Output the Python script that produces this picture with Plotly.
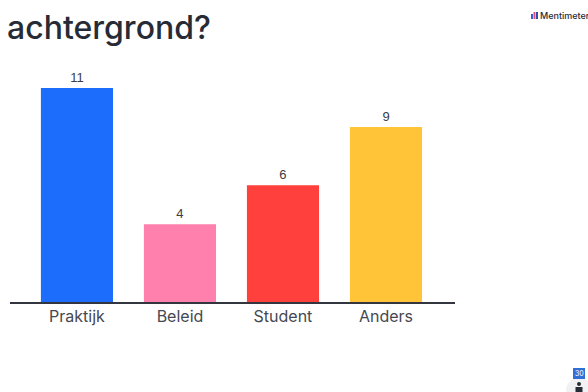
import plotly.graph_objects as go

categories = ["Praktijk", "Beleid", "Student", "Anders"]
values = [11, 4, 6, 9]
colors = ["#1c6dfb", "#ff7fad", "#ff403d", "#ffc438"]

W, H = 588, 392
LEFT, RIGHT, TOP, BASE = 10, 455, 40, 302
INK = "#272b36"
FONT = "Inter"


# Page pixels to the plot-area fractions used by xref/yref "paper"
def px(x):
    return (x - LEFT) / (RIGHT - LEFT)


def py(y):
    return (BASE - y) / (BASE - TOP)


fig = go.Figure(
    go.Bar(
        x=list(range(len(categories))),
        y=values,
        width=0.70,
        marker=dict(color=colors, line_width=0),
        text=values,
        textposition="outside",
        cliponaxis=False,
        textfont=dict(family="Liberation Sans", size=13, color="#3a3d46"),
        hoverinfo="skip",
    )
)

shapes = []
# Logo bars next to the brand name
for x0, y0, x1, color in [
    (531, 14, 533, "#3b5bdb"),
    (533.5, 12, 535.5, "#e0527a"),
    (536, 12, 538, "#2f4fa8"),
]:
    shapes.append(dict(type="rect", xref="paper", yref="paper",
                       x0=px(x0), x1=px(x1), y0=py(19), y1=py(y0),
                       fillcolor=color, line_width=0, layer="above"))
# Response counter badge and participant icon
shapes.append(dict(type="circle", xref="paper", yref="paper",
                   x0=px(566), x1=px(592), y0=py(404), y1=py(378),
                   fillcolor="#f1f1f3", line_width=0, layer="above"))
shapes.append(dict(type="rect", xref="paper", yref="paper",
                   x0=px(573), x1=px(585), y0=py(379), y1=py(368),
                   fillcolor="#2f6fd6", line_width=0, layer="above"))
shapes.append(dict(type="circle", xref="paper", yref="paper",
                   x0=px(577), x1=px(581), y0=py(386), y1=py(382),
                   fillcolor="#272b36", line_width=0, layer="above"))
shapes.append(dict(type="rect", xref="paper", yref="paper",
                   x0=px(575.5), x1=px(582.5), y0=py(392), y1=py(387),
                   fillcolor="#272b36", line_width=0, layer="above"))

annotations = [
    dict(text="achtergrond?", xref="paper", yref="paper",
         x=px(5), y=py(27.5), xanchor="left", yanchor="middle", showarrow=False,
         font=dict(family=FONT, size=32, color=INK, weight=500)),
    dict(text="Mentimeter", xref="paper", yref="paper",
         x=px(537.5), y=py(15.5), xanchor="left", yanchor="middle", showarrow=False,
         font=dict(family=FONT, size=9, color=INK, weight=500)),
    dict(text="30", xref="paper", yref="paper",
         x=px(579), y=py(373.5), xanchor="center", yanchor="middle", showarrow=False,
         font=dict(family=FONT, size=7, color="#ffffff")),
]

fig.update_layout(
    width=W,
    height=H,
    margin=dict(l=LEFT, r=W - RIGHT, t=TOP, b=H - BASE, pad=0),
    paper_bgcolor="#ffffff",
    plot_bgcolor="#ffffff",
    showlegend=False,
    shapes=shapes,
    annotations=annotations,
    xaxis=dict(
        range=[-0.65, 3.67],
        tickmode="array",
        tickvals=list(range(len(categories))),
        ticktext=categories,
        ticks="",
        showgrid=False,
        zeroline=False,
        showline=True,
        linecolor="#33363f",
        linewidth=1.5,
        ticklabelstandoff=-1,
        tickfont=dict(family=FONT, size=16, color="#454851"),
    ),
    yaxis=dict(range=[0, 13.47], visible=False),
)

fig.write_html("out.html", config=dict(displayModeBar=False))
